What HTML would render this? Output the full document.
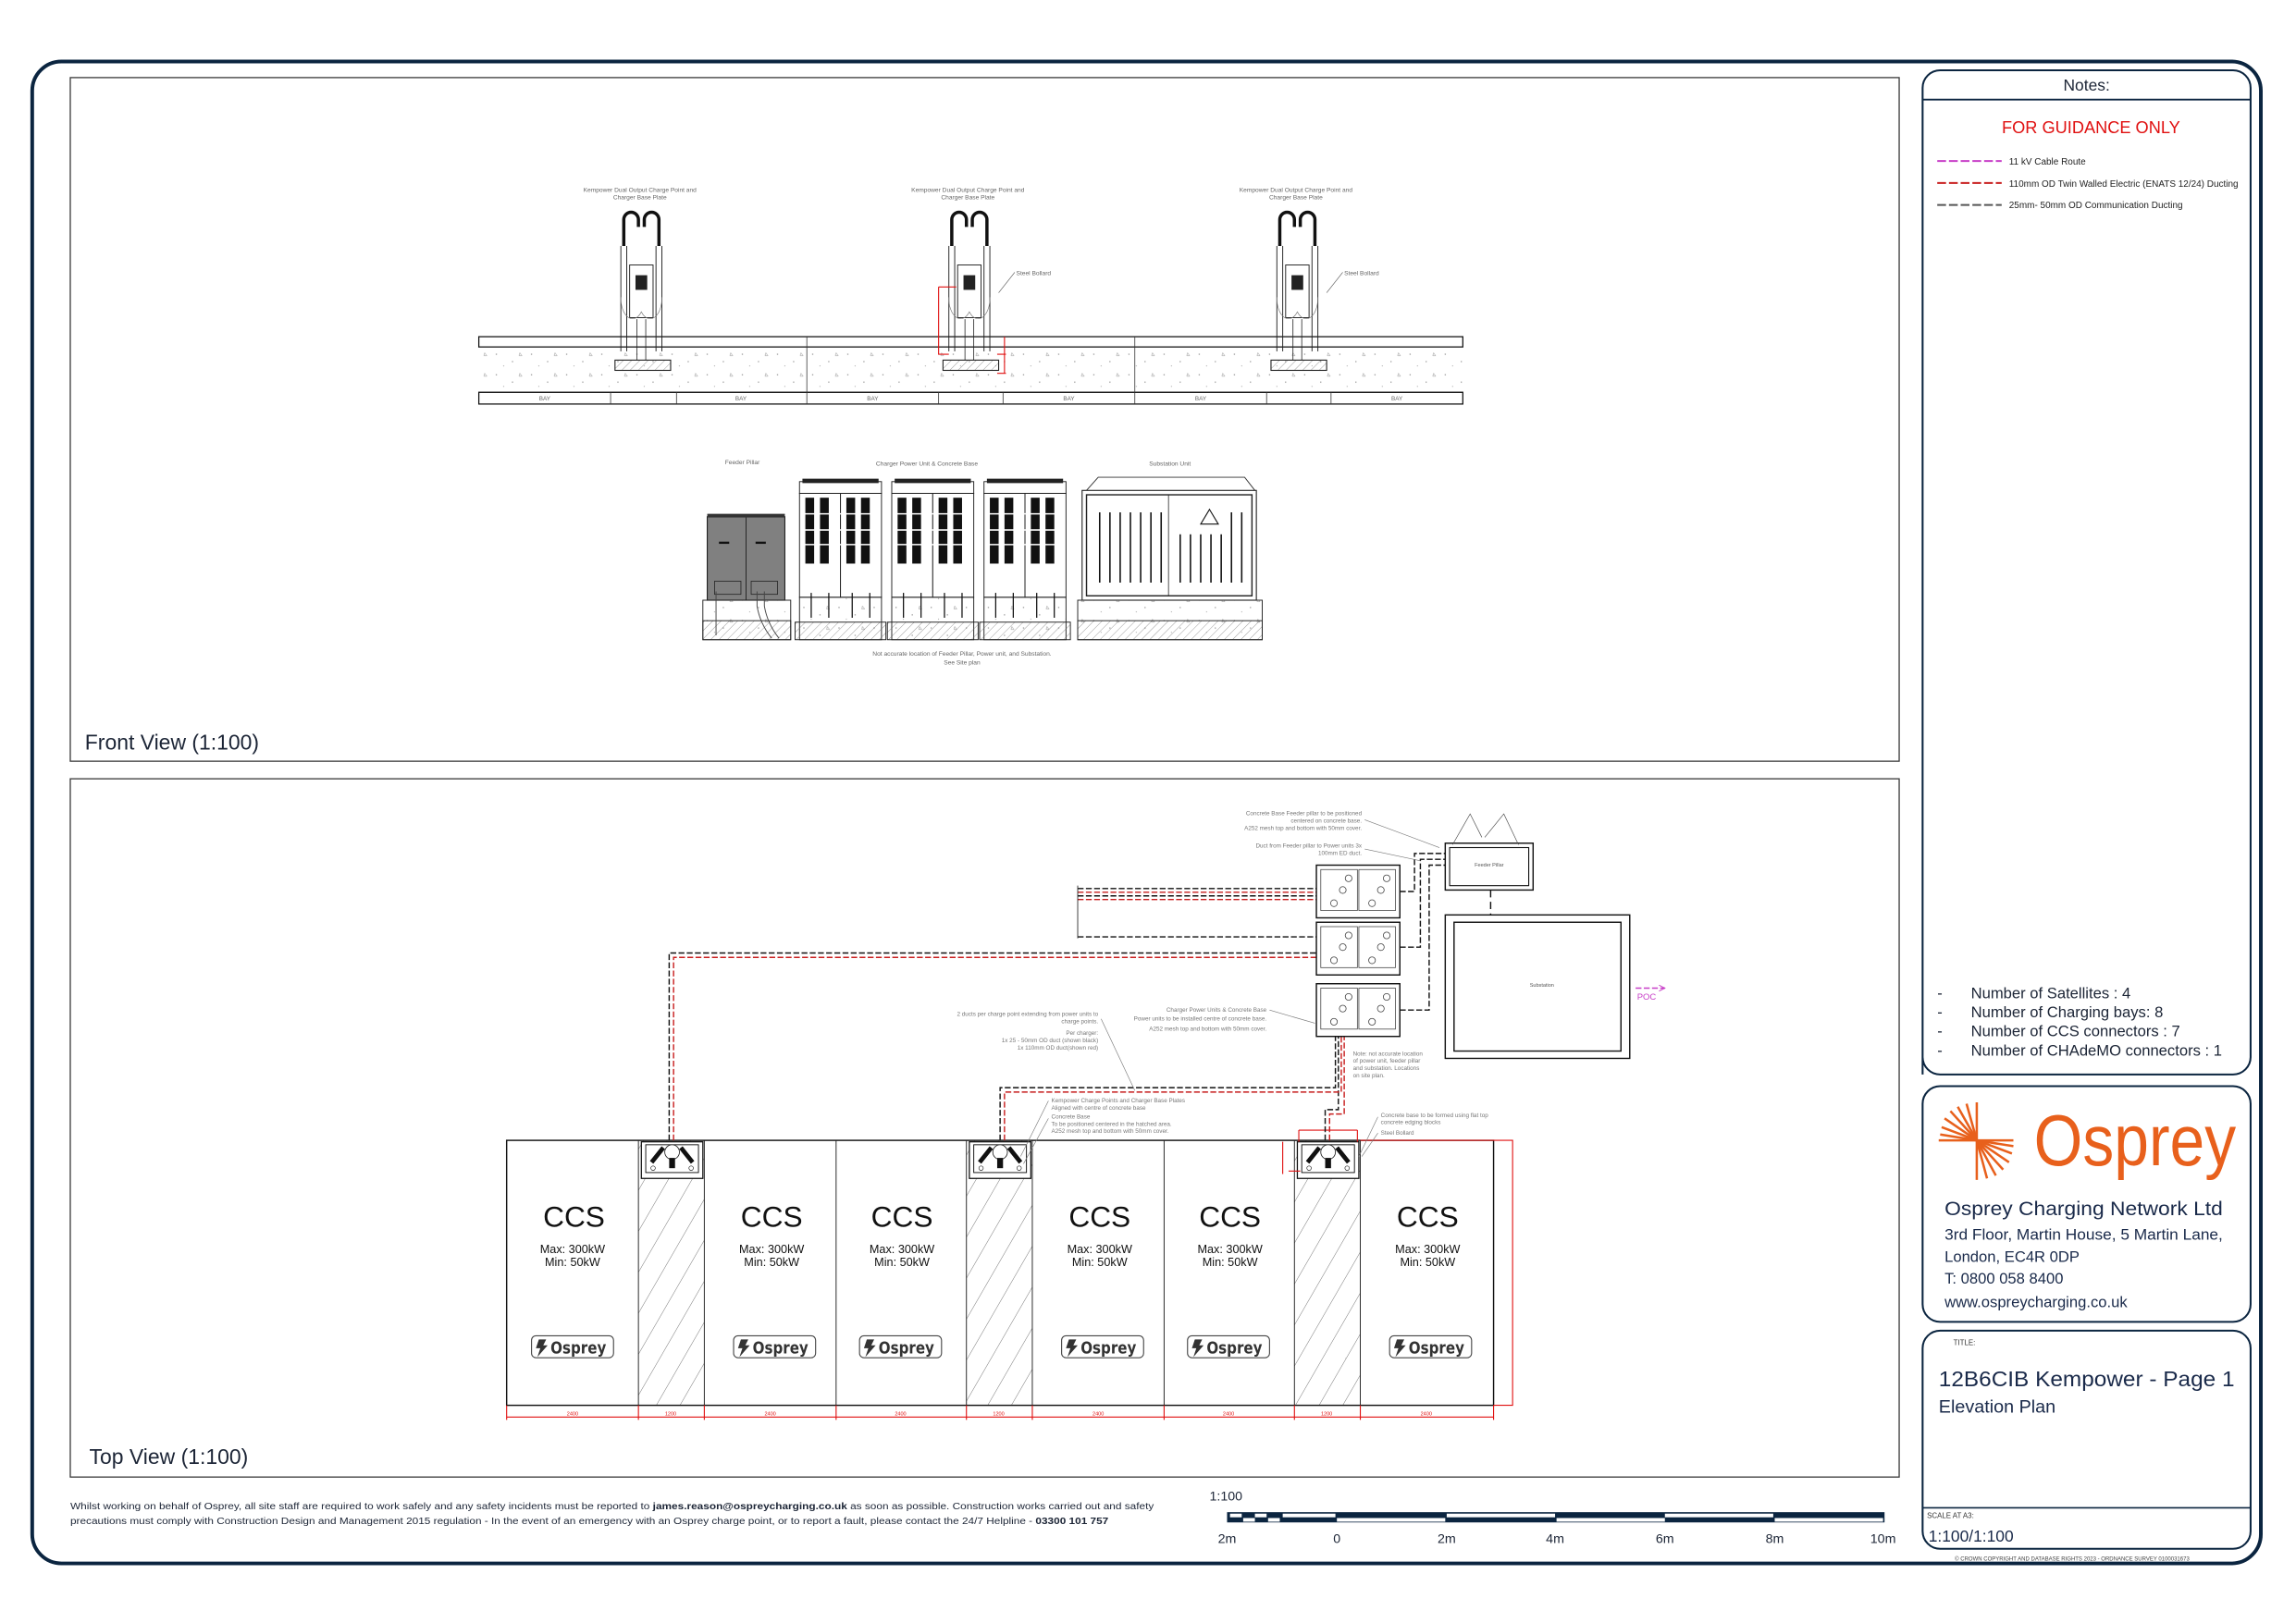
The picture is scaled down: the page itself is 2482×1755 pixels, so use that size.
<!DOCTYPE html>
<html><head><meta charset="utf-8"><style>
html,body{margin:0;padding:0;background:#fff;}
svg{display:block;}
text{font-family:"Liberation Sans",sans-serif;}
.c{font-family:"DejaVu Sans Condensed","Liberation Sans",sans-serif;}
</style></head><body>
<svg width="2482" height="1755" viewBox="0 0 1568 1108.7" xmlns="http://www.w3.org/2000/svg">
<defs>
<pattern id="hatch" width="14" height="14" patternUnits="userSpaceOnUse" patternTransform="rotate(30)">
<line x1="0" y1="0" x2="0" y2="14" stroke="#555" stroke-width="0.5"/></pattern>
<pattern id="hatch2" width="4" height="4" patternUnits="userSpaceOnUse" patternTransform="rotate(45)">
<line x1="0" y1="0" x2="0" y2="4" stroke="#666" stroke-width="0.4"/></pattern>
<pattern id="conc" width="24" height="14" patternUnits="userSpaceOnUse">
<circle cx="3" cy="4" r="0.4" fill="#777"/><circle cx="14" cy="9" r="0.4" fill="#777"/><path d="M19 3 l1.5 2 h-2z" fill="none" stroke="#888" stroke-width="0.3"/><circle cx="8" cy="12" r="0.3" fill="#777"/></pattern>
<g id="chg">
<path d="M-12 -60 v-18 a5 5 0 0 1 10 0 v5 M2 -73 v-5 a5 5 0 0 1 10 0 v18" fill="none" stroke="#111" stroke-width="2.2"/>
<rect x="-8" y="-47" width="16" height="36" fill="none" stroke="#222" stroke-width="0.6"/>
<rect x="-4" y="-40" width="8" height="10" fill="#222"/>
<line x1="-14" y1="-60" x2="-14" y2="12" stroke="#222" stroke-width="0.6"/><line x1="-10" y1="-60" x2="-10" y2="12" stroke="#222" stroke-width="0.6"/>
<line x1="10" y1="-60" x2="10" y2="12" stroke="#222" stroke-width="0.6"/><line x1="14" y1="-60" x2="14" y2="12" stroke="#222" stroke-width="0.6"/>
<path d="M-14 -25 a8 14 0 0 0 14 10 a8 14 0 0 0 14 -10" fill="none" stroke="#777" stroke-width="0.4"/>
<line x1="-3" y1="-10" x2="-3" y2="18" stroke="#222" stroke-width="0.5"/><line x1="3" y1="-10" x2="3" y2="18" stroke="#222" stroke-width="0.5"/>
<rect x="-18" y="18" width="38" height="7" fill="url(#hatch2)" stroke="#222" stroke-width="0.7"/>
</g>
<g id="pu">
<rect x="0" y="10" width="28" height="71" fill="#fff" stroke="#222" stroke-width="0.6"/>
<rect x="28" y="10" width="28" height="71" fill="#fff" stroke="#222" stroke-width="0.6"/>
<rect x="0" y="2" width="56" height="8" fill="#fff" stroke="#222" stroke-width="0.6"/>
<rect x="2" y="0" width="52" height="3" fill="#222"/>
<g fill="#111"><rect x="4" y="13" width="6" height="45"/><rect x="14" y="13" width="6" height="45"/><rect x="32" y="13" width="6" height="45"/><rect x="42" y="13" width="6" height="45"/></g>
<g stroke="#fff" stroke-width="1"><line x1="2" y1="24" x2="54" y2="24"/><line x1="2" y1="35" x2="54" y2="35"/><line x1="2" y1="45" x2="54" y2="45"/></g>
<rect x="0" y="81" width="56" height="29" fill="url(#conc)" stroke="#222" stroke-width="0.6"/>
<rect x="-3" y="98" width="62" height="12" fill="url(#hatch2)" stroke="#222" stroke-width="0.6"/>
<g stroke="#111" stroke-width="0.8"><line x1="8" y1="78" x2="8" y2="95"/><line x1="20" y1="78" x2="20" y2="95"/><line x1="36" y1="78" x2="36" y2="95"/><line x1="48" y1="78" x2="48" y2="95"/></g>
</g>
<g id="sym">
<rect x="-21" y="0" width="42" height="25" fill="#fff" stroke="#111" stroke-width="0.8"/>
<rect x="-18" y="2" width="36" height="19" fill="none" stroke="#111" stroke-width="0.6"/>
<circle cx="0" cy="7" r="5" fill="#fff" stroke="#111" stroke-width="0.5"/>
<path d="M-14 14 l8 -10 M14 14 l-8 -10" stroke="#111" stroke-width="3"/>
<rect x="-2" y="11" width="4" height="7" fill="#111"/>
<circle cx="-13" cy="18" r="1.5" fill="none" stroke="#111" stroke-width="0.4"/><circle cx="13" cy="18" r="1.5" fill="none" stroke="#111" stroke-width="0.4"/>
</g>
<g id="pbox">
<rect x="0" y="0" width="57" height="36" fill="#fff" stroke="#111" stroke-width="0.9"/>
<rect x="3" y="3" width="25" height="28" fill="none" stroke="#444" stroke-width="0.5"/><rect x="29" y="3" width="25" height="28" fill="none" stroke="#444" stroke-width="0.5"/>
<g fill="none" stroke="#444" stroke-width="0.5"><circle cx="22" cy="9" r="2.3"/><circle cx="48" cy="9" r="2.3"/><circle cx="18" cy="17" r="2.3"/><circle cx="44" cy="17" r="2.3"/><circle cx="12" cy="26" r="2.3"/><circle cx="38" cy="26" r="2.3"/></g>
</g>
<g id="badge">
<rect x="-28" y="-7.5" width="56" height="15" rx="3" fill="#fff" stroke="#444" stroke-width="0.7"/>
<path d="M-23 -5 h5 l-2 4 h3 l-7 8 l2 -6 h-3z" fill="#333"/>
<text x="4" y="4.5" font-size="11" text-anchor="middle" fill="#333" class="c" font-weight="bold" textLength="38" lengthAdjust="spacingAndGlyphs">Osprey</text>
</g>
</defs>

<!-- outer frame -->
<rect x="22" y="42" width="1522" height="1026" rx="20" fill="none" stroke="#0b2540" stroke-width="2.5"/>
<rect x="48" y="53" width="1249" height="467" fill="none" stroke="#333" stroke-width="0.8"/>
<rect x="48" y="532" width="1249" height="477" fill="none" stroke="#333" stroke-width="0.8"/>

<!-- notes panel -->
<path d="M1313 734 V60 a12 12 0 0 1 12 -12 H1525 a12 12 0 0 1 12 12 V722 a12 12 0 0 1 -12 12 H1325 a12 12 0 0 1 -12 -12" fill="none" stroke="#0b2540" stroke-width="1.3"/>
<line x1="1313" y1="68" x2="1537" y2="68" stroke="#0b2540" stroke-width="1.2"/>
<text x="1425" y="62" font-size="11" text-anchor="middle" fill="#1c2536">Notes:</text>
<text x="1428" y="91" font-size="11.5" text-anchor="middle" fill="#e01010">FOR GUIDANCE ONLY</text>
<line x1="1323" y1="110" x2="1367" y2="110" stroke="#c83fc8" stroke-width="1.3" stroke-dasharray="6,2"/>
<line x1="1323" y1="125" x2="1367" y2="125" stroke="#c81e1e" stroke-width="1.3" stroke-dasharray="6,2"/>
<line x1="1323" y1="140" x2="1367" y2="140" stroke="#555" stroke-width="1.3" stroke-dasharray="6,2"/>
<g font-size="6.3" fill="#222"><text x="1372" y="112.5">11 kV Cable Route</text><text x="1372" y="127.5">110mm OD Twin Walled Electric (ENATS 12/24) Ducting</text><text x="1372" y="142">25mm- 50mm OD Communication Ducting</text></g>
<g font-size="10.5" fill="#1c2536"><text x="1323" y="682">-</text><text x="1346" y="682">Number of Satellites : 4</text>
<text x="1323" y="695">-</text><text x="1346" y="695">Number of Charging bays: 8</text>
<text x="1323" y="708">-</text><text x="1346" y="708">Number of CCS connectors : 7</text>
<text x="1323" y="721">-</text><text x="1346" y="721">Number of CHAdeMO connectors : 1</text></g>

<!-- logo panel -->
<rect x="1313" y="742" width="224" height="161" rx="12" fill="none" stroke="#0b2540" stroke-width="1.3"/>
<g stroke="#e8601c" stroke-width="1.6">
<line x1="1324" y1="779" x2="1375" y2="779"/><line x1="1350" y1="753" x2="1350" y2="806"/>
<line x1="1350" y1="779" x2="1326" y2="770"/><line x1="1350" y1="779" x2="1328" y2="764"/><line x1="1350" y1="779" x2="1332" y2="759"/><line x1="1350" y1="779" x2="1337" y2="756"/><line x1="1350" y1="779" x2="1343" y2="754"/><line x1="1350" y1="779" x2="1325" y2="775"/>
<line x1="1350" y1="779" x2="1374" y2="788"/><line x1="1350" y1="779" x2="1372" y2="794"/><line x1="1350" y1="779" x2="1368" y2="799"/><line x1="1350" y1="779" x2="1363" y2="803"/><line x1="1350" y1="779" x2="1357" y2="805"/><line x1="1350" y1="779" x2="1375" y2="783"/>
</g>
<text x="1389" y="796" font-size="49" fill="#e8601c" textLength="138" lengthAdjust="spacingAndGlyphs">Osprey</text>
<g fill="#1a2a4a"><text x="1328" y="830" font-size="13.5" textLength="190" lengthAdjust="spacingAndGlyphs">Osprey Charging Network Ltd</text>
<text x="1328" y="847" font-size="10.5" textLength="190" lengthAdjust="spacingAndGlyphs">3rd Floor, Martin House, 5 Martin Lane,</text>
<text x="1328" y="862" font-size="10.5">London, EC4R 0DP</text>
<text x="1328" y="877" font-size="10.5">T: 0800 058 8400</text>
<text x="1328" y="893" font-size="10.5">www.ospreycharging.co.uk</text></g>

<!-- title panel -->
<rect x="1313" y="909" width="224" height="149" rx="12" fill="none" stroke="#0b2540" stroke-width="1.3"/>
<line x1="1313" y1="1030" x2="1537" y2="1030" stroke="#0b2540" stroke-width="1"/>
<text x="1334" y="919" font-size="5" fill="#333">TITLE:</text>
<text x="1324" y="947" font-size="14.5" fill="#1a2a4a" textLength="202" lengthAdjust="spacingAndGlyphs">12B6CIB Kempower - Page 1</text>
<text x="1324" y="965" font-size="12.5" fill="#1a2a4a">Elevation Plan</text>
<text x="1316" y="1037" font-size="5" fill="#333">SCALE AT A3:</text>
<text x="1317" y="1053" font-size="11" fill="#1a2a4a">1:100/1:100</text>
<text x="1335" y="1066" font-size="3.8" fill="#444">© CROWN COPYRIGHT AND DATABASE RIGHTS 2023 - ORDNANCE SURVEY 0100031673</text>

<!-- view labels -->
<text x="58" y="512" font-size="14.5" fill="#1c2536">Front View (1:100)</text>
<text x="61" y="1000" font-size="14.5" fill="#1c2536">Top View (1:100)</text>

<!-- FRONT ELEVATION -->
<rect x="327" y="237" width="672" height="31" fill="url(#conc)"/>
<rect x="327" y="230" width="672" height="7" fill="none" stroke="#111" stroke-width="0.8"/>
<line x1="327" y1="268" x2="999" y2="268" stroke="#111" stroke-width="0.8"/>
<rect x="327" y="268" width="672" height="8" fill="none" stroke="#111" stroke-width="0.8"/>
<g stroke="#333" stroke-width="0.5"><line x1="551" y1="230" x2="551" y2="276"/><line x1="775" y1="230" x2="775" y2="276"/>
<line x1="417" y1="268" x2="417" y2="276"/><line x1="641" y1="268" x2="641" y2="276"/><line x1="865" y1="268" x2="865" y2="276"/>
<line x1="462" y1="268" x2="462" y2="276"/><line x1="685" y1="268" x2="685" y2="276"/><line x1="909" y1="268" x2="909" y2="276"/></g>
<g font-size="4" fill="#666" text-anchor="middle"><text x="372" y="273.5">BAY</text><text x="506" y="273.5">BAY</text><text x="596" y="273.5">BAY</text><text x="730" y="273.5">BAY</text><text x="820" y="273.5">BAY</text><text x="954" y="273.5">BAY</text></g>
<use href="#chg" x="438" y="228"/><use href="#chg" x="662" y="228"/><use href="#chg" x="886" y="228"/>
<g font-size="4.2" fill="#666" text-anchor="middle"><text x="437" y="131">Kempower Dual Output Charge Point and</text><text x="437" y="136">Charger Base Plate</text>
<text x="661" y="131">Kempower Dual Output Charge Point and</text><text x="661" y="136">Charger Base Plate</text>
<text x="885" y="131">Kempower Dual Output Charge Point and</text><text x="885" y="136">Charger Base Plate</text></g>
<g font-size="4.2" fill="#666"><text x="694" y="188">Steel Bollard</text><text x="918" y="188">Steel Bollard</text></g>
<g stroke="#555" stroke-width="0.4"><line x1="693" y1="186" x2="682" y2="200"/><line x1="917" y1="186" x2="906" y2="200"/></g>
<g stroke="#e01010" stroke-width="0.7" fill="none"><path d="M641 196 h12 M641 196 v46 h7 M686 230 v25 M681 242 h6 M681 255 h6"/></g>

<!-- power units row -->
<rect x="483" y="353" width="53" height="57" fill="#808080" stroke="#222" stroke-width="0.7"/>
<line x1="509.5" y1="353" x2="509.5" y2="410" stroke="#222" stroke-width="0.6"/>
<rect x="483" y="351" width="53" height="2.5" fill="#333"/>
<rect x="488" y="397" width="18" height="9" fill="none" stroke="#222" stroke-width="0.5"/><rect x="513" y="397" width="18" height="9" fill="none" stroke="#222" stroke-width="0.5"/>
<rect x="491" y="370" width="7" height="1.5" fill="#111"/><rect x="516" y="370" width="7" height="1.5" fill="#111"/>
<rect x="480" y="410" width="60" height="27" fill="url(#conc)" stroke="#222" stroke-width="0.6"/>
<rect x="480" y="424" width="60" height="13" fill="url(#hatch2)" stroke="#222" stroke-width="0.6"/>
<g stroke="#444" stroke-width="0.6" fill="none"><path d="M489 404 v30 M517 404 v10 q2 12 10 22 M522 404 v10 q2 12 10 22"/></g>
<use href="#pu" x="546" y="327"/><use href="#pu" x="609" y="327"/><use href="#pu" x="672" y="327"/>
<path d="M742 335 L750 326 H850 L857 335" fill="none" stroke="#333" stroke-width="0.6"/>
<rect x="739" y="335" width="119" height="75" fill="#fff" stroke="#222" stroke-width="0.7"/>
<rect x="742" y="338" width="113" height="69" fill="none" stroke="#222" stroke-width="0.9"/>
<line x1="798" y1="338" x2="798" y2="407" stroke="#222" stroke-width="0.5"/>
<g stroke="#111" stroke-width="1"><line x1="751" y1="350" x2="751" y2="398"/><line x1="758" y1="350" x2="758" y2="398"/><line x1="765" y1="350" x2="765" y2="398"/><line x1="772" y1="350" x2="772" y2="398"/><line x1="779" y1="350" x2="779" y2="398"/><line x1="786" y1="350" x2="786" y2="398"/><line x1="793" y1="350" x2="793" y2="398"/>
<line x1="806" y1="365" x2="806" y2="398"/><line x1="813" y1="365" x2="813" y2="398"/><line x1="820" y1="365" x2="820" y2="398"/><line x1="827" y1="365" x2="827" y2="398"/><line x1="834" y1="365" x2="834" y2="398"/><line x1="841" y1="350" x2="841" y2="398"/><line x1="848" y1="350" x2="848" y2="398"/></g>
<path d="M826 348 l6 10 h-12z" fill="none" stroke="#111" stroke-width="0.7"/>
<rect x="736" y="410" width="126" height="27" fill="url(#conc)" stroke="#222" stroke-width="0.6"/>
<rect x="736" y="424" width="126" height="13" fill="url(#hatch2)" stroke="#222" stroke-width="0.6"/>
<g font-size="4.2" fill="#666" text-anchor="middle"><text x="507" y="317">Feeder Pillar</text><text x="633" y="318">Charger Power Unit &amp; Concrete Base</text><text x="799" y="318">Substation Unit</text>
<text x="657" y="448">Not accurate location of Feeder Pillar, Power unit, and Substation.</text><text x="657" y="454">See Site plan</text></g>

<!-- TOP VIEW -->
<rect x="436" y="779" width="45" height="181" fill="url(#hatch)"/>
<rect x="660" y="779" width="45" height="181" fill="url(#hatch)"/>
<rect x="884" y="779" width="45" height="181" fill="url(#hatch)"/>
<rect x="346" y="779" width="674" height="181" fill="none" stroke="#111" stroke-width="0.9"/>
<g stroke="#222" stroke-width="0.6"><line x1="436" y1="779" x2="436" y2="960"/><line x1="481" y1="779" x2="481" y2="960"/><line x1="571" y1="779" x2="571" y2="960"/><line x1="660" y1="779" x2="660" y2="960"/><line x1="705" y1="779" x2="705" y2="960"/><line x1="795" y1="779" x2="795" y2="960"/><line x1="884" y1="779" x2="884" y2="960"/><line x1="929" y1="779" x2="929" y2="960"/></g>
<use href="#sym" x="459" y="780"/><use href="#sym" x="683" y="780"/><use href="#sym" x="907" y="780"/>
<g text-anchor="middle" fill="#111" class="c">
<text x="392" y="838" font-size="20">CCS</text><text x="527" y="838" font-size="20">CCS</text><text x="616" y="838" font-size="20">CCS</text><text x="751" y="838" font-size="20">CCS</text><text x="840" y="838" font-size="20">CCS</text><text x="975" y="838" font-size="20">CCS</text>
<g font-size="8"><text x="391" y="856">Max: 300kW</text><text x="391" y="865">Min: 50kW</text><text x="527" y="856">Max: 300kW</text><text x="527" y="865">Min: 50kW</text><text x="616" y="856">Max: 300kW</text><text x="616" y="865">Min: 50kW</text><text x="751" y="856">Max: 300kW</text><text x="751" y="865">Min: 50kW</text><text x="840" y="856">Max: 300kW</text><text x="840" y="865">Min: 50kW</text><text x="975" y="856">Max: 300kW</text><text x="975" y="865">Min: 50kW</text></g></g>
<use href="#badge" x="391" y="920"/><use href="#badge" x="529" y="920"/><use href="#badge" x="615" y="920"/><use href="#badge" x="753" y="920"/><use href="#badge" x="839" y="920"/><use href="#badge" x="977" y="920"/>
<!-- red dims -->
<g stroke="#e01010" stroke-width="0.7" fill="none"><path d="M346 968 H1020 M346 960 v10 M436 960 v10 M481 960 v10 M571 960 v10 M660 960 v10 M705 960 v10 M795 960 v10 M884 960 v10 M929 960 v10 M1020 960 v10"/>
<path d="M929 779 H1033 V960 H1020 M887 772 H927 M887 772 v8 M927 772 v8 M876 780 v22 M880 800 h8"/></g>
<g font-size="3.5" fill="#e01010" text-anchor="middle"><text x="391" y="967">2400</text><text x="458" y="967">1200</text><text x="526" y="967">2400</text><text x="615" y="967">2400</text><text x="682" y="967">1200</text><text x="750" y="967">2400</text><text x="839" y="967">2400</text><text x="906" y="967">1200</text><text x="974" y="967">2400</text></g>

<!-- ducts -->
<g fill="none" stroke-width="0.9" stroke-dasharray="4,1.6">
<g stroke="#111"><path d="M736 607 H899 M736 612 H899 M736 640 H950"/></g>
<g stroke="#c81e1e"><path d="M736 609.5 H899 M736 614.5 H899"/></g>
<g stroke="#111"><path d="M457 779 V651 H904"/><path d="M683 779 V743 H912 V708"/><path d="M905 779 V758 H914 V708"/></g>
<g stroke="#c81e1e"><path d="M460 779 V654 H950"/><path d="M686 779 V746 H916 V708"/><path d="M908 779 V761 H918 V708"/></g>
<g stroke="#111"><path d="M956 609 H966 V583 H987 M956 647 H970 V587 H987 M956 690 H976 V591 H987"/><path d="M1018 608 V625" stroke-dasharray="5,3"/></g>
<path d="M1117 675 H1137" stroke="#c83fc8"/>
</g>
<path d="M736 605 V641" stroke="#111" stroke-width="0.5"/>
<path d="M1133 673 l4 2 l-4 2" fill="none" stroke="#c83fc8" stroke-width="0.6"/>
<text x="1118" y="683" font-size="6" fill="#c83fc8">POC</text>
<use href="#pbox" x="899" y="591"/><use href="#pbox" x="899" y="630"/><use href="#pbox" x="899" y="672"/>
<rect x="987" y="576" width="60" height="32" fill="#fff" stroke="#111" stroke-width="0.9"/>
<rect x="990" y="579" width="54" height="26" fill="none" stroke="#111" stroke-width="0.7"/>
<path d="M992 577 L1004 556 L1012 572 M1014 572 L1027 556 L1037 577" fill="none" stroke="#444" stroke-width="0.4"/>
<text x="1017" y="592" font-size="3.5" fill="#555" text-anchor="middle">Feeder Pillar</text>
<rect x="987" y="625" width="126" height="98" fill="none" stroke="#111" stroke-width="0.9"/>
<rect x="993" y="630" width="114" height="88" fill="none" stroke="#111" stroke-width="0.9"/>
<text x="1053" y="674" font-size="3.5" fill="#555" text-anchor="middle">Substation</text>
<g font-size="4" fill="#777" text-anchor="end">
<text x="930" y="557">Concrete Base Feeder pillar to be positioned</text><text x="930" y="562">centered on concrete base.</text><text x="930" y="567">A252 mesh top and bottom with 50mm cover.</text>
<text x="930" y="579">Duct from Feeder pillar to Power units 3x</text><text x="930" y="584">100mm ED duct.</text>
<text x="865" y="691">Charger Power Units &amp; Concrete Base</text><text x="865" y="697">Power units to be installed centre of concrete base.</text><text x="865" y="704">A252 mesh top and bottom with 50mm cover.</text>
<text x="750" y="694">2 ducts per charge point extending from power units to</text><text x="750" y="699">charge points.</text>
<text x="750" y="707">Per charger:</text><text x="750" y="712">1x 25 - 50mm OD duct (shown black)</text><text x="750" y="717">1x 110mm OD duct(shown red)</text></g>
<g font-size="4" fill="#777">
<text x="924" y="721">Note: not accurate location</text><text x="924" y="726">of power unit, feeder pillar</text><text x="924" y="731">and substation. Locations</text><text x="924" y="736">on site plan.</text>
<text x="718" y="753">Kempower Charge Points and Charger Base Plates</text><text x="718" y="758">Aligned with centre of concrete base</text>
<text x="718" y="764">Concrete Base</text><text x="718" y="769">To be positioned centered in the hatched area.</text><text x="718" y="774">A252 mesh top and bottom with 50mm cover.</text>
<text x="943" y="763">Concrete base to be formed using flat top</text><text x="943" y="768">concrete edging blocks</text><text x="943" y="775">Steel Bollard</text></g>
<g stroke="#777" stroke-width="0.4" fill="none"><path d="M932 560 L983 579 M932 580 L970 588 M867 690 L898 699 M752 696 L775 745 M716 752 L697 790 M716 764 L699 795 M941 763 L928 790 M941 774 L930 790"/></g>

<!-- footer -->
<g font-size="6.6" fill="#1c2536" class="c">
<text x="48" y="1031" textLength="740" lengthAdjust="spacingAndGlyphs">Whilst working on behalf of Osprey, all site staff are required to work safely and any safety incidents must be reported to <tspan font-weight="bold">james.reason@ospreycharging.co.uk</tspan> as soon as possible. Construction works carried out and safety</text>
<text x="48" y="1041" textLength="709" lengthAdjust="spacingAndGlyphs">precautions must comply with Construction Design and Management 2015 regulation - In the event of an emergency with an Osprey charge point, or to report a fault, please contact the 24/7 Helpline - <tspan font-weight="bold">03300 101 757</tspan></text></g>
<text x="826" y="1025" font-size="9" fill="#1c2536">1:100</text>
<rect x="838" y="1033" width="449" height="7" fill="#0b2540"/>
<g fill="#fff"><rect x="840" y="1034" width="8" height="2.5"/><rect x="857" y="1034" width="8" height="2.5"/><rect x="849" y="1037" width="8" height="2.5"/><rect x="866" y="1037" width="8" height="2.5"/><rect x="876" y="1034" width="36" height="2.5"/><rect x="988" y="1034" width="74" height="2.5"/><rect x="1137" y="1034" width="74" height="2.5"/><rect x="913" y="1037" width="74" height="2.5"/><rect x="1063" y="1037" width="74" height="2.5"/><rect x="1212" y="1037" width="74" height="2.5"/></g>
<g font-size="9" fill="#1c2536" text-anchor="middle"><text x="838" y="1054">2m</text><text x="913" y="1054">0</text><text x="988" y="1054">2m</text><text x="1062" y="1054">4m</text><text x="1137" y="1054">6m</text><text x="1212" y="1054">8m</text><text x="1286" y="1054">10m</text></g>
</svg>
</body></html>
